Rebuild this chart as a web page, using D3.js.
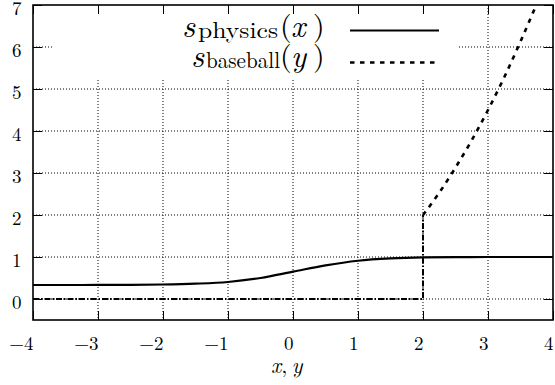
<!DOCTYPE html>
<html>
<head>
<meta charset="utf-8">
<script src="https://cdn.jsdelivr.net/npm/d3@7/dist/d3.min.js"></script>
<style>
  html, body { margin: 0; padding: 0; background: #fff; }
  svg { display: block; }
</style>
</head>
<body>
<svg id="chart" width="555" height="385"></svg>
<script>
// ---- data ----
const xTicks = [-4, -3, -2, -1, 0, 1, 2, 3, 4];
const yTicks = [0, 1, 2, 3, 4, 5, 6, 7];
const xTickLabels = ["\u22124", "\u22123", "\u22122", "\u22121", "0", "1", "2", "3", "4"];
const yTickLabels = ["0", "1", "2", "3", "4", "5", "6", "7"];

// s_physics(x)
const physicsX = [-4, -3.5, -3, -2.5, -2, -1.5, -1, -0.5, 0, 0.5, 1, 1.5, 2, 2.5, 3, 3.5, 4];
const physicsY = [0.333, 0.333, 0.334, 0.337, 0.345, 0.365, 0.405, 0.50, 0.65, 0.80, 0.91, 0.965, 0.99, 0.997, 1.0, 1.0, 1.0];

// s_baseball(y), upper branch
const baseballX = [2, 2.25, 2.5, 2.75, 3, 3.25, 3.5, 3.742];
const baseballY = [2, 2.53, 3.13, 3.78, 4.5, 5.28, 6.13, 7.0];

// s_baseball(y), lower branch and jump
const baseLowX = [-4, 2, 2];
const baseLowY = [0, 0, 2];

// ---- layout ----
const FONT = '"Latin Modern Roman", "Liberation Serif", serif';
const svg = d3.select("#chart");
const L = 33, R = 553, T = 5, B = 320;
const x = d3.scaleLinear().domain([-4, 4]).range([L, R]);
const y = d3.scaleLinear().domain([-0.5, 7]).range([B, T]);

// grid
const grid = svg.append("g");
grid.selectAll("line.gx").data(xTicks.slice(1, -1)).join("line")
  .attr("x1", d => x(d)).attr("x2", d => x(d))
  .attr("y1", T).attr("y2", B)
  .attr("stroke", "#000").attr("stroke-width", 1).attr("stroke-dasharray", "1,2");
grid.selectAll("line.gy").data(yTicks.filter(d => d < 7)).join("line")
  .attr("x1", L).attr("x2", R)
  .attr("y1", d => y(d)).attr("y2", d => y(d))
  .attr("stroke", "#000").attr("stroke-width", 1).attr("stroke-dasharray", "1,2");

// key box (opaque)
svg.append("rect").attr("x", 52).attr("y", T).attr("width", 407).attr("height", 75).attr("fill", "#fff");

// axes with inward ticks on all sides
const tl = 9;
svg.append("g").attr("transform", `translate(0,${B})`)
  .call(d3.axisBottom(x).tickValues(xTicks).tickSize(-tl).tickFormat(""))
  .call(g => g.select(".domain").remove());
svg.append("g").attr("transform", `translate(0,${T})`)
  .call(d3.axisTop(x).tickValues(xTicks).tickSize(-tl).tickFormat(""))
  .call(g => g.select(".domain").remove());
svg.append("g").attr("transform", `translate(${L},0)`)
  .call(d3.axisLeft(y).tickValues(yTicks).tickSize(-tl).tickFormat(""))
  .call(g => g.select(".domain").remove());
svg.append("g").attr("transform", `translate(${R},0)`)
  .call(d3.axisRight(y).tickValues(yTicks).tickSize(-tl).tickFormat(""))
  .call(g => g.select(".domain").remove());
svg.selectAll(".tick line").attr("stroke", "#000").attr("stroke-width", 1);

// tick labels
svg.append("g").selectAll("text").data(xTicks).join("text")
  .attr("x", d => x(d) + 0.5).attr("y", 350)
  .attr("text-anchor", "end")
  .style("font-family", FONT).style("font-size", "19px")
  .text((d, i) => xTickLabels[i]);
svg.append("g").selectAll("text").data(yTicks).join("text")
  .attr("x", 21.5).attr("y", d => y(d) + 10)
  .attr("text-anchor", "end")
  .style("font-family", FONT).style("font-size", "19px")
  .text((d, i) => yTickLabels[i]);

// x label
const xl = svg.append("text").attr("x", 271).attr("y", 373)
  .style("font-family", FONT).style("font-size", "22px");
xl.append("tspan").style("font-style", "italic").text("x");
xl.append("tspan").text(",\u2009");
xl.append("tspan").style("font-style", "italic").text("y");

// clip
svg.append("clipPath").attr("id", "clip").append("rect")
  .attr("x", L).attr("y", T).attr("width", R - L).attr("height", B - T);

const plot = svg.append("g").attr("clip-path", "url(#clip)");

plot.append("path")
  .datum(baseLowX.map((v, i) => [v, baseLowY[i]]))
  .attr("d", d3.line().x(d => x(d[0])).y(d => y(d[1])))
  .attr("fill", "none").attr("stroke", "#000")
  .attr("stroke-width", 2).attr("stroke-dasharray", "6,2,1.5,2");

plot.append("path")
  .datum(physicsX.map((v, i) => [v, physicsY[i]]))
  .attr("d", d3.line().x(d => x(d[0])).y(d => y(d[1])).curve(d3.curveMonotoneX))
  .attr("fill", "none").attr("stroke", "#000").attr("stroke-width", 2.2);

plot.append("path")
  .datum(baseballX.map((v, i) => [v, baseballY[i]]))
  .attr("d", d3.line().x(d => x(d[0])).y(d => y(d[1])).curve(d3.curveMonotoneX))
  .attr("fill", "none").attr("stroke", "#000")
  .attr("stroke-width", 2.6).attr("stroke-dasharray", "4.5,5.5");

// border
svg.append("rect").attr("x", L).attr("y", T).attr("width", R - L).attr("height", B - T)
  .attr("fill", "none").attr("stroke", "#000").attr("stroke-width", 1.6);

// legend
function legendRow(base, sx, sub, subX, subLen, arg, sampleY, dash) {
  const t = svg.append("text").attr("y", base).style("font-family", FONT);
  t.append("tspan").attr("x", sx).attr("y", base)
    .style("font-size", "32px").style("font-style", "italic").text("s");
  t.append("tspan").attr("x", subX).attr("y", base + 1)
    .style("font-size", "23px").attr("textLength", subLen).attr("lengthAdjust", "spacingAndGlyphs").text(sub);
  t.append("tspan").attr("x", 280).attr("y", base - 1).style("font-size", "30px").text("(");
  t.append("tspan").attr("x", 291).attr("y", base)
    .style("font-size", "31px").style("font-style", "italic").text(arg);
  t.append("tspan").attr("x", 313).attr("y", base - 1).style("font-size", "30px").text(")");
  svg.append("line").attr("x1", 350).attr("x2", 439).attr("y1", sampleY).attr("y2", sampleY)
    .attr("stroke", "#000").attr("stroke-width", dash ? 2.6 : 2.2)
    .attr("stroke-dasharray", dash ? "4.5,5.5" : null);
}
legendRow(37, 182, "physics", 198, 80, "x", 30.5, false);
legendRow(67, 191, "baseball", 206, 74, "y", 62.5, true);
</script>
</body>
</html>
